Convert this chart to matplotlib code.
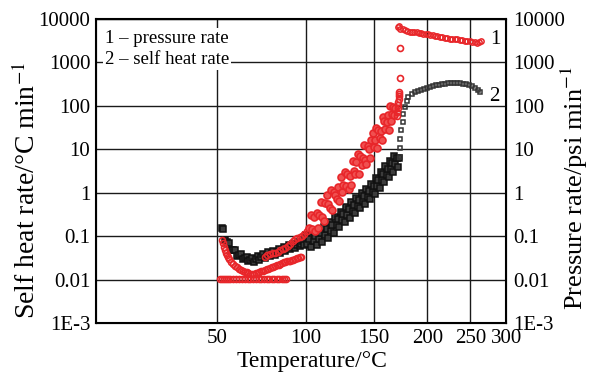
import matplotlib
matplotlib.use('Agg')
import matplotlib.pyplot as plt
from matplotlib.ticker import FixedLocator, NullLocator

plt.rcParams['font.family'] = ['Liberation Serif', 'DejaVu Serif']
plt.rcParams['mathtext.fontset'] = 'stix'

# self heat rate, degC/min (left axis)
shr_temp_low = [52.5, 53, 54, 55, 56, 57, 58, 59, 60, 61, 62, 63, 64, 65, 66, 67,
                68, 69, 70, 71, 72, 73, 74, 75, 76, 77, 78, 79, 80, 81, 82, 83,
                84, 85, 86, 87, 88, 89, 90, 91, 92, 93, 94, 95, 96, 97, 98, 99]
shr_rate_low = [0.153, 0.144, 0.0802, 0.0745, 0.0693, 0.0475, 0.0481, 0.0486,
                0.0355, 0.0376, 0.0398, 0.0299, 0.0316, 0.0340, 0.0263, 0.0286,
                0.0319, 0.0259, 0.0299, 0.0343, 0.0281, 0.0329, 0.0385, 0.0318,
                0.0372, 0.0429, 0.0349, 0.0403, 0.0463, 0.0378, 0.0439, 0.0509,
                0.0418, 0.0485, 0.0564, 0.0463, 0.0535, 0.0615, 0.0501, 0.0578,
                0.0665, 0.0542, 0.0624, 0.0718, 0.0585, 0.0673, 0.0774, 0.0631]
shr_temp_mid = [100, 101, 102, 103, 104, 105, 106, 107, 108, 109, 110, 111,
                112, 113, 114, 115, 116, 117, 118, 119, 120, 121, 122, 123,
                124, 125, 126, 127, 128, 129, 130, 131, 132, 133, 134, 135,
                136, 137, 138, 139, 140, 141, 142, 143, 144, 145, 146, 147,
                148, 149, 150, 151, 152, 153, 154, 155, 156, 157, 158, 159,
                160, 161, 162, 163, 164, 165, 166, 167, 168, 169, 170, 171, 172]
shr_rate_mid = [0.106, 0.0662, 0.0883, 0.0551, 0.122, 0.0759, 0.101, 0.0631,
                0.140, 0.0869, 0.116, 0.0729, 0.165, 0.106, 0.145, 0.0925,
                0.209, 0.134, 0.184, 0.119, 0.274, 0.177, 0.245, 0.159,
                0.366, 0.237, 0.325, 0.208, 0.474, 0.304, 0.417, 0.267,
                0.607, 0.389, 0.533, 0.342, 0.776, 0.497, 0.679, 0.435,
                0.986, 0.631, 0.863, 0.552, 1.25, 0.800, 1.09, 0.700,
                1.59, 1.02, 1.43, 0.933, 2.17, 1.42, 1.98, 1.30,
                3.01, 1.97, 2.73, 1.77, 4.05, 2.61, 3.61, 2.33,
                5.35, 3.46, 4.78, 3.07, 7.00, 4.50, 6.19, 3.98, 6.2]
shr_temp_peak = [173.6, 173.6, 173.6, 174.5, 175.5, 175.5, 177.4, 179.3, 181.2,
                 184.2, 187.1, 190.1, 193.2, 196.3, 199.4, 202.6, 205.8, 209.1,
                 212.4, 215.7, 219.1, 222.6, 226.1, 229.6, 233.2, 236.8, 240.5,
                 244.3, 248.1, 251.9, 255.8, 259.8, 262.5]
shr_rate_peak = [6.5, 10.5, 17.0, 27.3, 42.2, 63.8, 92.4, 127, 157,
                 184, 204, 221, 233, 246, 259, 273, 288, 296,
                 304, 312, 320, 329, 329, 329, 329, 329, 325,
                 316, 300, 281, 253, 227, 204]

# pressure rate, psi/min (right axis)
pr_temp_dip = [52.5, 53, 53.5, 54, 54.5, 55, 55.5, 56, 57, 58, 59, 60, 61, 62,
               63, 64, 65, 66, 67, 68, 69, 70, 71, 72, 73, 74, 75, 76, 77, 78,
               79, 80, 81, 82, 83, 84, 85, 86, 87, 88, 89, 90, 91, 92, 93, 94,
               95, 96, 97]
pr_rate_dip = [0.081, 0.068, 0.057, 0.049, 0.042, 0.037, 0.033, 0.030, 0.026,
               0.023, 0.021, 0.019, 0.018, 0.0168, 0.016, 0.0152, 0.0146,
               0.0141, 0.0137, 0.0134, 0.0136, 0.0140, 0.0145, 0.0150, 0.0155,
               0.016, 0.0166, 0.0172, 0.0178, 0.0185, 0.019, 0.0197, 0.0205,
               0.0213, 0.022, 0.023, 0.024, 0.025, 0.026, 0.0265, 0.027,
               0.0275, 0.028, 0.029, 0.030, 0.031, 0.032, 0.033, 0.034]
pr_temp_floor = [51.5, 52.5, 53.5, 54.5, 55.5, 56.5, 58, 59.5, 61, 62.5, 64,
                 65.5, 67, 68.5, 70, 71.5, 73, 74.5, 76, 77.5, 79, 80.5, 82,
                 83.5, 85, 86.5, 87.5]
pr_rate_floor = [0.0102, 0.0102, 0.0102, 0.0102, 0.0102, 0.0102, 0.0102,
                 0.0102, 0.0102, 0.0102, 0.0102, 0.0102, 0.0102, 0.0102,
                 0.0102, 0.0102, 0.0102, 0.0102, 0.0102, 0.0102, 0.0102,
                 0.0102, 0.0102, 0.0102, 0.0102, 0.0102, 0.0102]
pr_temp_rise = [75, 76.5, 78, 79.5, 81, 82.5, 84, 85.5, 87, 88.5, 90, 91.5, 93,
                94.5, 96, 97.5, 99, 100.5]
pr_rate_rise = [0.033, 0.036, 0.038, 0.040, 0.042, 0.044, 0.047, 0.050, 0.053,
                0.060, 0.067, 0.076, 0.085, 0.092, 0.095, 0.100, 0.115, 0.135]
pr_temp_band = [102, 103, 104, 105, 106, 107, 108, 109, 110, 111, 112, 113,
                114, 115, 116, 117, 118, 119, 120, 121, 122, 123, 124, 125,
                126, 127, 128, 129, 130, 131, 132, 133, 134, 135, 136, 137,
                138, 139, 140, 141, 142, 143, 144, 145, 146, 147, 148, 149,
                150, 151, 152, 153, 154, 155, 156, 157, 158, 159, 160, 161,
                162, 163, 164, 165, 166, 167, 168, 169]
pr_rate_band = [0.158, 0.310, 0.145, 0.277, 0.130, 0.335, 0.157, 0.307, 0.600,
                0.281, 0.229, 0.590, 0.875, 0.541, 0.451, 1.16, 0.404, 1.04,
                0.867, 0.723, 1.38, 0.647, 2.25, 1.05, 1.53, 2.99, 1.40, 2.67,
                1.25, 2.45, 1.51, 5.26, 3.25, 2.71, 5.18, 7.67, 2.67, 6.87,
                4.35, 6.30, 12.3, 5.77, 4.70, 12.1, 10.1, 6.24, 16.1, 23.8,
                11.2, 16.2, 31.6, 11.0, 28.3, 17.9, 25.9, 16.0, 55.7, 45.4,
                28.7, 41.6, 60.3, 28.2, 98.2, 46.0, 66.7, 96.6, 61.1, 88.5]
pr_temp_jump = [170.0, 170.5, 171.0, 171.3, 171.6, 171.9, 172.1, 172.3, 172.5,
                172.7, 172.7]
pr_rate_jump = [60, 72, 88, 105, 122, 142, 165, 190, 210, 450, 2100]
pr_temp_top = [171.7, 172.2, 173.6, 175.5, 177.4, 179.3, 182.2, 184.2, 186.1,
               189.1, 191.1, 193.2, 195.2, 198.4, 200.5, 202.6, 205.8, 208.0,
               210.1, 213.5, 215.7, 219.1, 221.4, 224.9, 227.2, 230.8, 233.2,
               236.8, 239.3, 243.0, 245.5, 249.3, 251.9, 255.8, 258.5, 261.2,
               263.8]
pr_rate_top = [6380, 6730, 6050, 5740, 5590, 5440, 5160, 5080, 4975, 4900,
               4818, 4717, 4640, 4520, 4450, 4400, 4220, 4110, 3960, 3860,
               3800, 3700, 3620, 3560, 3505, 3430, 3380, 3290, 3240, 3155,
               3105, 3040, 2990, 2930, 2880, 2960, 3040]

t_ticks = [50, 100, 150, 200, 250, 300]
rate_ticks = [1e-3, 0.01, 0.1, 1, 10, 100, 1000, 10000]
rate_labels = ['1E-3', '0.01', '0.1', '1', '10', '100', '1000', '10000']


# Arrhenius-type axis: linear in -1/T (K)
def fwd(t):
    return -1.0 / (t + 273.15)


def inv(u):
    return -1.0 / u - 273.15


fig = plt.figure(figsize=(5.92, 3.73), dpi=100)
ax = fig.add_axes([0.162, 0.134, 0.693, 0.815])
ax.set_xscale('function', functions=(fwd, inv))
ax.set_yscale('log')
ax.set_xlim(0, 300)
ax.set_ylim(1e-3, 1e4)

ax.xaxis.set_major_locator(FixedLocator(t_ticks))
ax.xaxis.set_minor_locator(NullLocator())
ax.set_xticklabels([str(t) for t in t_ticks])
ax.yaxis.set_major_locator(FixedLocator(rate_ticks))
ax.yaxis.set_minor_locator(NullLocator())
ax.set_yticklabels(rate_labels)
ax.tick_params(length=0, labelsize=15, pad=4)
ax.grid(True, color='#1a1a1a', lw=1.0)
for s in ax.spines.values():
    s.set_linewidth(1.5)

# dense stretch of the self heat record: squares overlap into a solid band
sq = dict(ls='none', marker='s', ms=3.8, mfc='#3c3c3c', mec='#111111', mew=1.1)
ax.plot(shr_temp_low, shr_rate_low, **sq)
ax.plot(shr_temp_mid, shr_rate_mid, **sq)
ax.plot(shr_temp_peak, shr_rate_peak, ls='none', marker='s', ms=3.3,
        mfc='none', mec='#333333', mew=1.1)

ax2 = ax.twinx()
ax2.set_yscale('log')
ax2.set_ylim(1e-3, 1e4)
ax2.yaxis.set_major_locator(FixedLocator(rate_ticks))
ax2.yaxis.set_minor_locator(NullLocator())
ax2.set_yticklabels(rate_labels)
ax2.tick_params(length=0, labelsize=15, pad=5)

ci = dict(ls='none', marker='o', ms=4.3, mfc='none', mec='#e8262a', mew=1.2)
ax2.plot(pr_temp_dip, pr_rate_dip, **ci)
ax2.plot(pr_temp_floor, pr_rate_floor, **ci)
ax2.plot(pr_temp_rise, pr_rate_rise, **ci)
ax2.plot(pr_temp_band, pr_rate_band, ls='none', marker='o', ms=5.0,
         mfc='#f05050', mec='#e8262a', mew=1.2)
ax2.plot(pr_temp_jump, pr_rate_jump, **ci)
ax2.plot(pr_temp_top, pr_rate_top, ls='none', marker='o', ms=3.8,
         mfc='none', mec='#e8262a', mew=1.1)

ax2.text(284, 3300, '1', fontsize=15, ha='center', va='center')
ax2.text(283, 165, '2', fontsize=15, ha='center', va='center')

ax.text(0.022, 0.965, '1 \u2013 pressure rate\n2 \u2013 self heat rate',
        transform=ax.transAxes, fontsize=13.5, va='top', ha='left',
        linespacing=1.3,
        bbox=dict(facecolor='white', edgecolor='none', pad=1.5), zorder=5)

fig.text(312 / 592, 1 - 361 / 373, 'Temperature/\u00b0C', fontsize=17,
         ha='center', va='center')
fig.text(27 / 592, 1 - 190 / 373, 'Self heat rate/\u00b0C min$^{-1}$',
         fontsize=20, rotation=90, ha='center', va='center')
fig.text(574 / 592, 1 - 188 / 373, 'Pressure rate/psi min$^{-1}$',
         fontsize=19, rotation=90, ha='center', va='center')

fig.savefig('out.png', dpi=100)
